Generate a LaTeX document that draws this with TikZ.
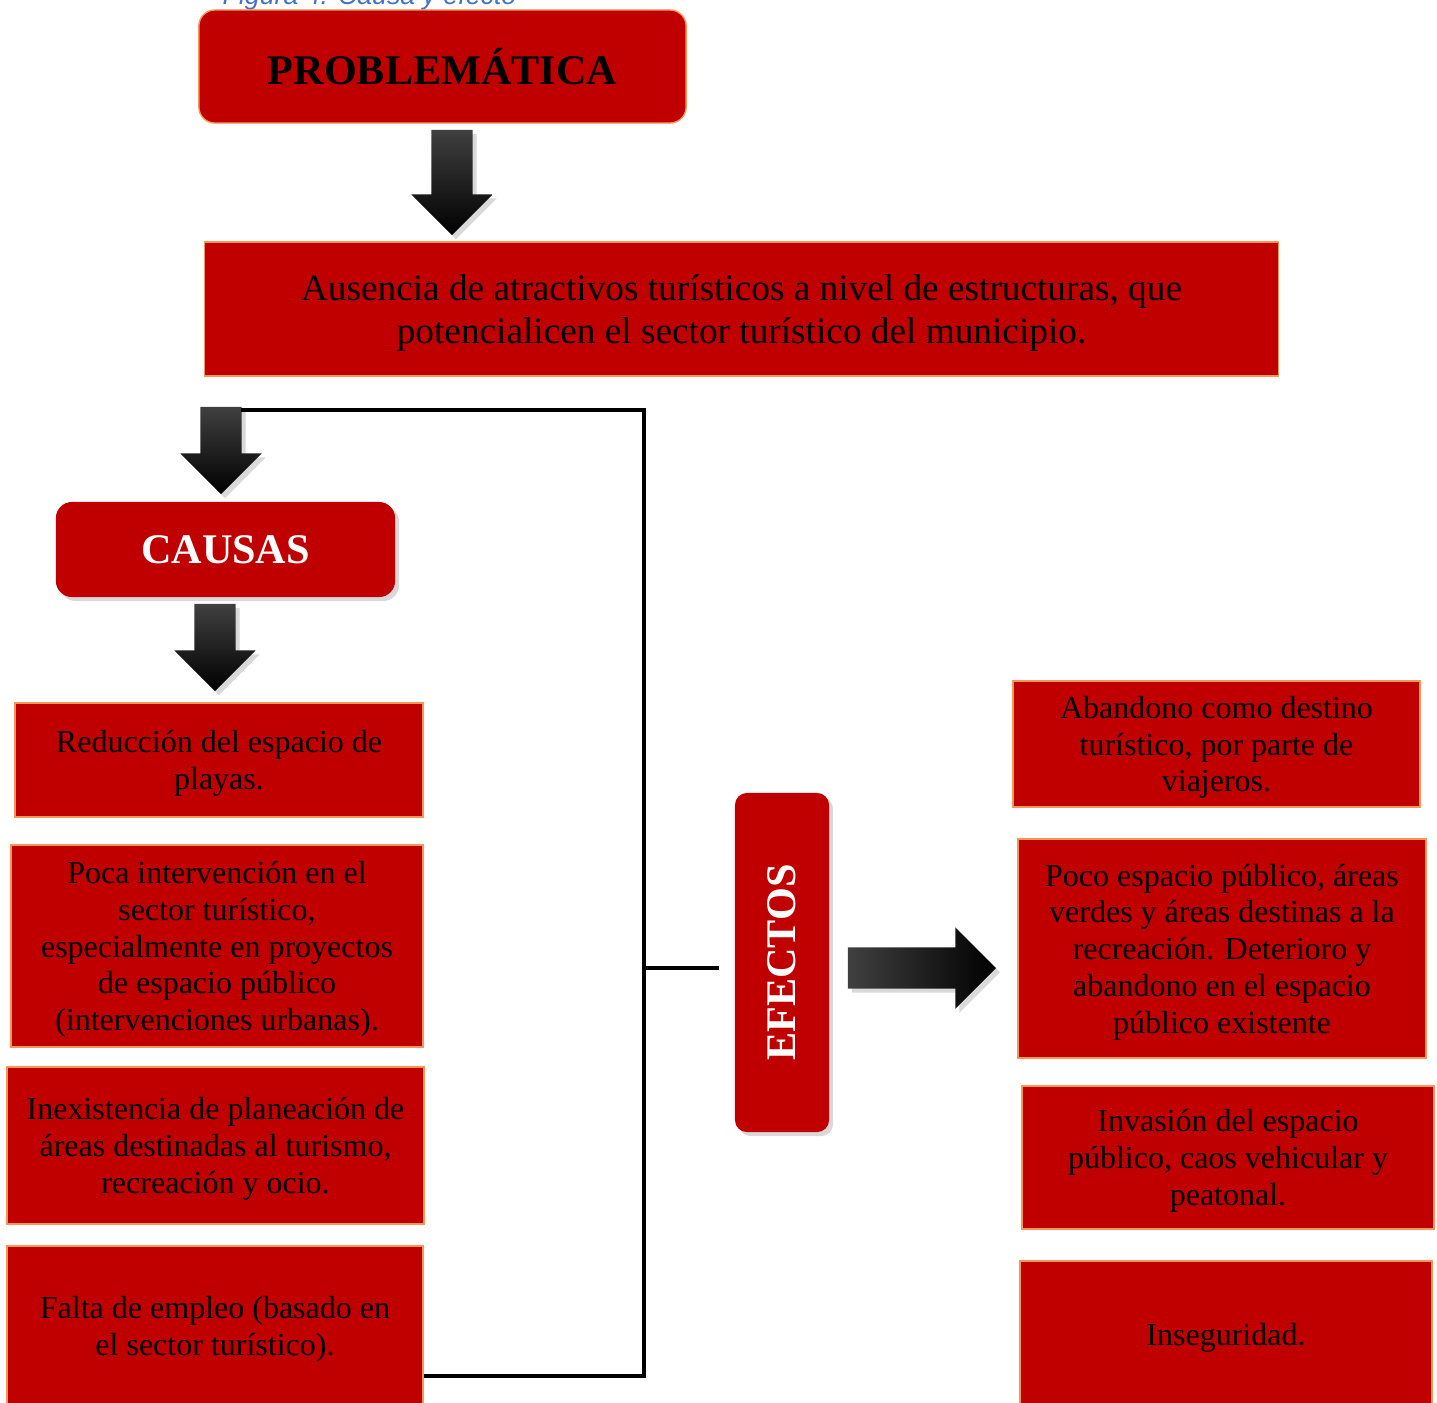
\documentclass[tikz,border=0pt]{standalone}
\usepackage{fontspec}
\setmainfont{Liberation Serif}
\newfontfamily\captionfont{Liberation Sans}
\usetikzlibrary{shapes.arrows,shadows}
\definecolor{boxred}{RGB}{192,0,0}
\definecolor{boxline}{RGB}{244,150,90}
\definecolor{capblue}{RGB}{68,114,196}
\begin{document}
\begin{tikzpicture}[x=0.01cm, y=-0.01cm,
  redbox/.style={draw=boxline, line width=0.4pt, fill=boxred, align=center, inner sep=0pt,
    text depth=0pt, font=\fontsize{9.1}{10.45}\selectfont},
  titlebox/.style={fill=boxred, rounded corners=1.6mm, inner sep=0pt, align=center,
    font=\fontsize{12}{14}\selectfont\bfseries},
  shadowed/.style={drop shadow={opacity=0.3, shadow xshift=0.4mm, shadow yshift=-0.4mm}},
  bigarrow/.style={single arrow, minimum width=8mm, single arrow head extend=2mm, anchor=tip,
    inner sep=0pt, text width=4mm, text height=4mm, text depth=0pt, shadowed},
  downarrow/.style={bigarrow, shape border rotate=270, top color=black!75, middle color=black, bottom color=black},
  bracket/.style={line width=0.9pt}]
\useasboundingbox (0,0) rectangle (1437,1402);

\node[anchor=base west, inner sep=0pt, text=capblue, font=\captionfont\itshape\fontsize{7.6}{9}\selectfont] (caption) at (222,4) {Figura 4. Causa y efecto};

\node[titlebox, draw=boxline, line width=0.4pt, minimum width=4.87cm, minimum height=1.13cm] (prob) at (442.5,66.5) {PROBLEMÁTICA};
\node[downarrow, minimum height=1.05cm] (arr1) at (452,236) {};
\node[redbox, minimum width=10.73cm, minimum height=1.34cm, font=\fontsize{10.6}{12.2}\selectfont] (aus) at (741.5,309) {Ausencia de atractivos turísticos a nivel de estructuras, que\\potencialicen el sector turístico del municipio.};

\node[downarrow, minimum height=0.87cm] (arr2) at (221,495) {};
\node[titlebox, shadowed, text=white, minimum width=3.39cm, minimum height=0.95cm] (causas) at (225.5,549.5) {CAUSAS};
\node[downarrow, minimum height=0.87cm] (arr3) at (215,692) {};

\node[redbox, minimum width=4.08cm, minimum height=1.14cm] (c1) at (219,760) {Reducción del espacio de\\playas.};
\node[redbox, minimum width=4.12cm, minimum height=2.02cm] (c2) at (217,946) {Poca intervención en el\\sector turístico,\\especialmente en proyectos\\de espacio público\\(intervenciones urbanas).};
\node[redbox, minimum width=4.17cm, minimum height=1.57cm] (c3) at (215.5,1145.5) {Inexistencia de planeación de\\áreas destinadas al turismo,\\recreación y ocio.};
\node[redbox, minimum width=4.16cm, minimum height=1.6cm] (c4) at (215,1326) {Falta de empleo (basado en\\el sector turístico).};

\node[titlebox, shadowed, text=white, rounded corners=1.2mm, minimum width=0.94cm, minimum height=3.39cm] (efectos) at (782,962.5) {};
\node[rotate=90, text=white, font=\fontsize{12}{14}\selectfont\bfseries] (eflabel) at (efectos) {EFECTOS};
\node[bigarrow, left color=black!75, middle color=black, right color=black, minimum height=1.48cm] (arr4) at (997,968) {};

\node[redbox, minimum width=4.07cm, minimum height=1.26cm] (e1) at (1216.5,744) {Abandono como destino\\turístico, por parte de\\viajeros.};
\node[redbox, minimum width=4.08cm, minimum height=2.19cm] (e2) at (1222,948.5) {Poco espacio público, áreas\\verdes y áreas destinas a la\\recreación. Deterioro y\\abandono en el espacio\\público existente};
\node[redbox, minimum width=4.12cm, minimum height=1.43cm] (e3) at (1228,1157.5) {Invasión del espacio\\público, caos vehicular y\\peatonal.};
\node[redbox, minimum width=4.12cm, minimum height=1.46cm] (e4) at (1226,1334) {Inseguridad.};

% bracket joining causas and efectos
\coordinate (brtop) at (644,410);
\coordinate (brbot) at (644,1376);
\draw[bracket] ([xshift=2mm]arr2.tail |- brtop) -- (brtop) -- (brbot) -- (c4.east |- brbot);
\draw[bracket] (brtop |- arr4) -- ([xshift=-1.5mm]efectos.west |- arr4);
\end{tikzpicture}
\end{document}
